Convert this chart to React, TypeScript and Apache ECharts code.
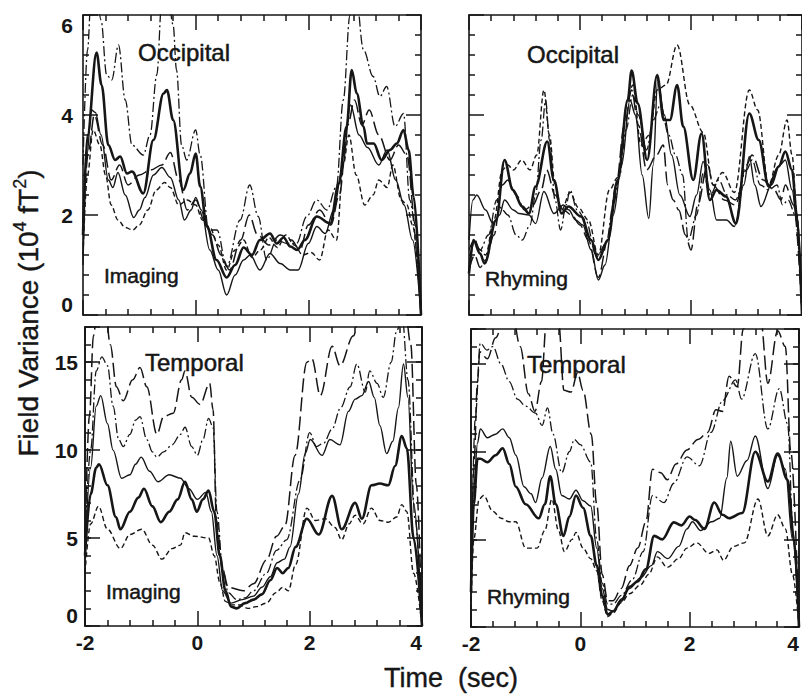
import React, { useEffect, useRef } from "react";
import * as echarts from "echarts";

type P = [number, number][];

// ---------- Top-left: Occipital / Imaging ----------
const tlDashDot: P = [[-2,3.0],[-1.92,5.3],[-1.85,6.5],[-1.75,6.3],[-1.68,5.9],[-1.58,4.8],[-1.49,4.7],[-1.37,5.4],[-1.25,4.3],[-1.13,3.4],[-0.93,3.2],[-0.81,3.6],[-0.69,4.8],[-0.6,6.3],[-0.5,6.5],[-0.4,5.8],[-0.34,4.9],[-0.25,3.4],[-0.16,3.1],[0,3.7],[0.08,3.2],[0.23,1.7],[0.38,1.7],[0.55,0.97],[0.79,1.9],[0.96,2.6],[1.11,1.97],[1.26,1.1],[1.44,1.5],[1.62,1.43],[1.79,1.43],[1.97,1.97],[2.15,2.3],[2.33,2.1],[2.5,2.57],[2.62,4.3],[2.74,6.0],[2.83,6.6],[2.98,5.3],[3.15,4.77],[3.27,4.37],[3.39,4.57],[3.54,3.77],[3.69,4.03],[3.8,2.3],[4,0]];
const tlThick: P = [[-2,1.6],[-1.92,3.6],[-1.76,5.25],[-1.67,4.6],[-1.55,3.4],[-1.43,3.1],[-1.34,3.17],[-1.22,2.83],[-1.13,2.87],[-0.93,2.43],[-0.75,3.5],[-0.57,4.43],[-0.51,4.5],[-0.4,3.9],[-0.22,2.5],[-0.1,2.83],[0,3.23],[0.08,2.57],[0.2,1.77],[0.37,1.1],[0.55,0.75],[0.7,1.0],[0.85,1.35],[1.0,1.2],[1.14,1.5],[1.32,1.63],[1.44,1.43],[1.56,1.55],[1.68,1.37],[1.8,1.3],[1.94,1.5],[2.15,1.97],[2.39,1.83],[2.54,2.63],[2.68,3.77],[2.77,4.9],[2.86,4.43],[2.98,3.77],[3.04,3.43],[3.16,3.43],[3.3,3.1],[3.45,3.3],[3.57,3.43],[3.69,3.7],[3.78,3.3],[3.87,2.37],[4,0]];
const tlThin: P = [[-2,1.0],[-1.93,3.2],[-1.85,4.1],[-1.78,4.05],[-1.68,3.6],[-1.55,2.7],[-1.47,2.55],[-1.38,2.85],[-1.25,2.4],[-1.1,1.95],[-1.0,2.1],[-0.9,2.35],[-0.75,2.8],[-0.6,2.95],[-0.45,2.75],[-0.3,2.3],[-0.2,1.9],[-0.08,2.1],[0,2.35],[0.1,2.1],[0.25,1.3],[0.4,0.9],[0.55,0.4],[0.7,0.8],[0.85,1.1],[0.97,1.2],[1.14,0.9],[1.32,1.23],[1.5,1.03],[1.68,0.9],[1.82,0.9],[2.0,1.43],[2.15,1.77],[2.3,1.63],[2.45,2.1],[2.6,2.9],[2.75,4.2],[2.9,3.6],[3.05,3.35],[3.25,3.0],[3.4,3.3],[3.55,2.7],[3.7,2.2],[3.85,1.5],[4,0]];
const tlLongDash: P = [[-2,1.8],[-1.9,3.3],[-1.8,4.0],[-1.65,3.4],[-1.5,2.7],[-1.35,3.0],[-1.2,2.6],[-1.0,2.8],[-0.8,2.9],[-0.6,3.0],[-0.45,3.25],[-0.3,2.7],[-0.15,2.1],[0,2.3],[0.15,1.9],[0.3,1.6],[0.45,1.2],[0.6,0.9],[0.8,1.5],[0.95,2.0],[1.1,1.6],[1.3,1.4],[1.5,1.6],[1.7,1.5],[1.85,1.3],[2.0,1.8],[2.2,2.1],[2.4,1.8],[2.55,2.4],[2.7,3.8],[2.82,4.3],[2.95,3.8],[3.08,4.1],[3.25,3.6],[3.45,3.1],[3.6,3.4],[3.75,3.2],[3.9,1.8],[4,0]];
const tlShortDash: P = [[-2,1.2],[-1.92,2.8],[-1.82,3.7],[-1.7,3.4],[-1.6,2.8],[-1.5,2.2],[-1.38,1.9],[-1.25,1.75],[-1.12,1.7],[-1.0,1.8],[-0.85,2.1],[-0.7,2.5],[-0.55,2.65],[-0.45,2.55],[-0.3,2.2],[-0.15,2.3],[0,2.2],[0.12,1.9],[0.25,1.75],[0.4,1.4],[0.55,0.9],[0.7,1.3],[0.85,1.5],[1.0,1.15],[1.15,1.3],[1.3,1.55],[1.45,1.35],[1.6,1.6],[1.75,1.4],[1.9,1.2],[2.05,1.25],[2.2,1.1],[2.35,1.7],[2.5,1.5],[2.62,3.0],[2.72,3.6],[2.85,2.8],[3.0,2.2],[3.15,2.4],[3.25,2.7],[3.4,2.55],[3.5,3.0],[3.65,2.3],[3.75,2.2],[3.85,1.8],[4,0]];

// ---------- Top-right: Occipital / Rhyming ----------
const trShortDash: P = [[-2,0.9],[-1.9,1.5],[-1.8,1.3],[-1.7,1.2],[-1.55,1.9],[-1.4,2.9],[-1.3,3.0],[-1.2,2.9],[-1.05,3.1],[-0.9,2.9],[-0.78,3.2],[-0.65,4.5],[-0.55,3.6],[-0.45,2.6],[-0.33,2.1],[-0.18,2.45],[-0.03,2.15],[0.15,1.9],[0.33,1.2],[0.53,2.5],[0.68,2.75],[0.86,4.3],[0.95,4.6],[1.1,3.4],[1.25,3.6],[1.39,4.5],[1.55,4.6],[1.75,5.4],[1.98,4.2],[2.22,3.65],[2.4,2.6],[2.57,2.85],[2.78,2.45],[3.05,4.5],[3.2,4.1],[3.4,2.6],[3.58,3.2],[3.73,3.9],[3.82,3.2],[3.91,2.0],[4,0]];
const trThick: P = [[-2,0.83],[-1.92,1.5],[-1.8,1.23],[-1.72,1.03],[-1.51,1.9],[-1.36,3.1],[-1.21,2.5],[-1.04,2.17],[-0.92,2.03],[-0.8,2.57],[-0.59,3.47],[-0.47,2.7],[-0.33,2.03],[-0.21,2.17],[0.02,1.97],[0.2,1.5],[0.33,1.1],[0.5,1.5],[0.68,2.7],[0.86,4.3],[0.93,4.89],[1.04,4.23],[1.21,3.1],[1.39,4.8],[1.51,3.9],[1.62,3.9],[1.75,4.6],[1.86,3.77],[2.04,2.7],[2.19,3.63],[2.34,2.3],[2.46,2.5],[2.63,2.37],[2.81,1.83],[3.05,4.03],[3.22,3.5],[3.4,2.57],[3.58,2.97],[3.7,3.27],[3.82,2.9],[3.91,1.97],[4,0]];
const trThin: P = [[-2,1.5],[-1.93,2.3],[-1.86,2.4],[-1.7,2.1],[-1.57,1.83],[-1.45,2.0],[-1.36,2.3],[-1.2,2.1],[-1.1,2.03],[-0.92,2.0],[-0.8,1.83],[-0.65,2.47],[-0.47,2.03],[-0.3,2.2],[-0.2,2.1],[-0.08,1.9],[0.05,1.8],[0.2,1.3],[0.33,0.7],[0.45,1.0],[0.6,2.0],[0.75,3.0],[0.9,4.3],[1.0,4.0],[1.12,2.8],[1.24,1.93],[1.32,3.0],[1.4,4.7],[1.52,4.0],[1.65,3.2],[1.8,2.4],[1.98,1.97],[2.1,2.4],[2.22,3.07],[2.34,2.5],[2.46,1.9],[2.64,1.9],[2.78,1.77],[2.95,2.6],[3.05,3.17],[3.15,2.6],[3.26,2.17],[3.45,2.6],[3.6,3.0],[3.7,3.1],[3.82,2.5],[3.92,1.8],[4,0]];
const trDashDot: P = [[-2,1.3],[-1.9,1.5],[-1.8,1.3],[-1.65,1.6],[-1.5,2.3],[-1.4,2.1],[-1.3,2.0],[-1.15,1.6],[-1.04,1.5],[-0.9,1.8],[-0.8,2.4],[-0.7,3.5],[-0.62,4.3],[-0.55,3.5],[-0.45,2.3],[-0.35,1.7],[-0.25,2.2],[-0.18,2.5],[-0.05,2.1],[0.1,1.9],[0.3,1.17],[0.47,1.43],[0.6,2.2],[0.71,2.77],[0.83,3.7],[0.95,4.4],[1.05,4.0],[1.2,3.3],[1.32,3.9],[1.45,4.2],[1.6,3.6],[1.72,3.2],[1.85,2.8],[1.95,1.5],[2.1,2.0],[2.22,2.83],[2.35,2.4],[2.5,2.7],[2.65,2.4],[2.8,2.3],[3.0,2.9],[3.1,3.1],[3.25,2.6],[3.4,2.5],[3.55,2.6],[3.65,2.2],[3.75,2.3],[3.88,2.0],[4,0]];
const trLongDash: P = [[-2,0.9],[-1.9,1.2],[-1.8,0.95],[-1.7,1.1],[-1.55,1.6],[-1.4,2.6],[-1.3,2.7],[-1.15,2.4],[-1.0,2.1],[-0.85,2.2],[-0.7,2.5],[-0.6,2.9],[-0.45,2.4],[-0.3,2.1],[-0.15,2.0],[0,1.8],[0.15,1.5],[0.33,0.75],[0.5,1.5],[0.65,2.6],[0.8,3.8],[0.93,4.5],[1.05,3.8],[1.2,2.9],[1.38,3.2],[1.5,3.4],[1.58,2.6],[1.68,2.3],[1.78,2.1],[1.9,1.6],[2.0,1.3],[2.12,2.2],[2.3,3.0],[2.4,2.6],[2.6,2.3],[2.8,2.2],[3.0,3.0],[3.1,3.2],[3.3,2.7],[3.5,2.5],[3.62,2.3],[3.7,2.6],[3.85,2.2],[4,0]];

// ---------- Bottom-left: Temporal / Imaging ----------
const blLongDash: P = [[-2,5],[-1.92,12],[-1.85,16.5],[-1.78,18],[-1.65,18.5],[-1.55,16],[-1.44,13.6],[-1.32,12.8],[-1.15,14],[-1.02,14.7],[-0.9,13.6],[-0.72,10.9],[-0.6,11.9],[-0.43,12.1],[-0.28,14.0],[-0.22,14.5],[-0.1,13.0],[0.05,12.6],[0.22,13.8],[0.28,12.3],[0.34,6.0],[0.45,3.2],[0.55,2.2],[0.82,2.0],[1.0,2.4],[1.23,3.75],[1.41,5.1],[1.56,5.7],[1.74,9.7],[1.95,15.0],[2.04,15.2],[2.19,13.1],[2.4,15.9],[2.54,14.8],[2.78,16.5],[2.9,18],[3.2,19],[3.5,18.5],[3.7,18],[3.8,16],[3.9,8],[4,0]];
const blDashDot: P = [[-2,5],[-1.9,10],[-1.8,14.5],[-1.7,15.3],[-1.6,14.8],[-1.5,12.5],[-1.4,10.6],[-1.32,10.2],[-1.2,10.9],[-1.1,11.7],[-1.02,11.9],[-0.9,10.6],[-0.8,9.9],[-0.72,9.6],[-0.6,9.9],[-0.45,10.3],[-0.3,10.9],[-0.22,11.3],[-0.1,10.2],[0,9.7],[0.1,10.6],[0.2,11.8],[0.28,11.3],[0.35,6.5],[0.45,3.3],[0.55,1.9],[0.7,1.5],[0.85,1.6],[1.0,2.0],[1.23,3.0],[1.41,4.3],[1.59,4.9],[1.83,8.3],[2.0,11.0],[2.12,10.2],[2.25,10.4],[2.4,11.2],[2.55,12.4],[2.72,13.6],[2.84,14.9],[2.99,13.3],[3.07,14.5],[3.2,13.8],[3.31,13.0],[3.45,15.0],[3.55,16.8],[3.65,17.5],[3.75,14],[3.88,6],[4,0]];
const blThin: P = [[-2,4],[-1.9,9],[-1.8,12.5],[-1.72,13.1],[-1.6,11.5],[-1.5,10.0],[-1.35,8.4],[-1.2,8.6],[-1.1,9.2],[-1.0,9.6],[-0.85,8.8],[-0.7,8.2],[-0.5,8.6],[-0.3,8.4],[-0.15,7.8],[0,7.2],[0.15,7.6],[0.25,6.5],[0.35,4.0],[0.45,2.0],[0.6,1.3],[0.8,1.5],[1.0,1.7],[1.15,2.2],[1.3,2.8],[1.42,3.6],[1.55,3.8],[1.65,4.5],[1.8,7.5],[1.92,9.8],[2.01,10.6],[2.22,9.7],[2.36,10.6],[2.54,10.3],[2.69,12.2],[2.81,12.9],[2.93,13.1],[3.05,13.9],[3.15,13.0],[3.25,11.4],[3.37,9.8],[3.48,10.5],[3.58,12.4],[3.67,14.9],[3.75,13],[3.85,7],[4,0]];
const blThick: P = [[-2,4],[-1.9,7.5],[-1.8,9.0],[-1.75,9.2],[-1.6,8.0],[-1.45,6.2],[-1.37,5.5],[-1.2,6.5],[-1.05,7.3],[-0.95,7.8],[-0.8,6.8],[-0.65,5.9],[-0.5,6.5],[-0.35,7.2],[-0.22,8.2],[-0.1,7.2],[-0.01,6.5],[0.1,7.2],[0.2,7.7],[0.3,6.5],[0.4,4.0],[0.5,2.0],[0.6,1.1],[0.7,1.0],[0.85,1.3],[1.0,1.5],[1.15,1.8],[1.3,2.6],[1.42,3.3],[1.52,3.0],[1.62,3.3],[1.75,4.5],[1.95,6.1],[2.16,5.2],[2.4,7.4],[2.57,5.5],[2.81,7.0],[2.93,6.1],[3.1,8.0],[3.25,8.1],[3.4,8.0],[3.52,9.1],[3.64,10.8],[3.73,10.1],[3.85,5],[4,0]];
const blShortDash: P = [[-2,3],[-1.9,5.8],[-1.76,6.8],[-1.6,5.5],[-1.37,4.4],[-1.2,5.2],[-0.99,5.5],[-0.8,4.6],[-0.63,3.8],[-0.45,4.4],[-0.3,4.6],[-0.22,5.3],[-0.05,5.1],[0.2,5.0],[0.3,4.0],[0.4,2.5],[0.5,1.4],[0.6,1.2],[0.75,1.2],[0.9,1.0],[1.05,1.1],[1.23,1.3],[1.4,1.9],[1.52,2.2],[1.62,2.0],[1.75,3.5],[1.95,6.7],[2.1,6.0],[2.28,6.1],[2.45,5.6],[2.57,4.9],[2.7,5.8],[2.81,6.3],[2.95,5.8],[3.1,6.7],[3.25,6.0],[3.4,5.9],[3.55,6.2],[3.64,6.9],[3.73,6.5],[3.85,3],[4,0]];

// ---------- Bottom-right: Temporal / Rhyming ----------
const brLongDash: P = [[-2,2],[-1.95,9],[-1.88,14],[-1.84,15.7],[-1.7,15.3],[-1.55,16.5],[-1.4,17.5],[-1.25,18],[-1.1,16],[-0.95,13.3],[-0.83,12.3],[-0.71,14],[-0.62,17.5],[-0.5,18],[-0.4,17.5],[-0.3,13.5],[-0.17,13.4],[-0.05,14.5],[0.05,13.5],[0.2,11],[0.3,7],[0.4,3],[0.5,1.5],[0.6,1.5],[0.75,2.2],[0.9,3.5],[1.05,4.5],[1.2,6],[1.32,9.0],[1.47,8.8],[1.59,8.4],[1.75,9.3],[1.95,10.1],[2.15,10.7],[2.33,11.1],[2.48,12.4],[2.6,12.3],[2.72,14.3],[2.87,13.7],[2.98,17],[3.1,18],[3.3,17.5],[3.43,13.9],[3.61,16.9],[3.75,16],[3.85,10],[4,0]];
const brDashDot: P = [[-2,3],[-1.92,12],[-1.83,16.2],[-1.71,15.8],[-1.6,16.0],[-1.45,15],[-1.3,14],[-1.15,13],[-1.0,12.6],[-0.82,12.2],[-0.7,11.5],[-0.6,12.5],[-0.5,11],[-0.34,8.8],[-0.2,10],[-0.11,10.7],[0,10.4],[0.19,9.4],[0.3,5],[0.4,2.5],[0.5,1.3],[0.6,1.3],[0.75,1.8],[0.95,2.7],[1.15,4.3],[1.32,7.5],[1.53,7.1],[1.71,8.2],[1.95,9.7],[2.18,9.2],[2.39,11.1],[2.6,12.9],[2.84,14.1],[2.95,13.0],[3.2,15.6],[3.43,11.3],[3.64,13.6],[3.79,11.6],[3.9,5],[4,0]];
const brThin: P = [[-2,2],[-1.95,8],[-1.88,10.5],[-1.83,11.3],[-1.7,10.8],[-1.55,11.0],[-1.42,11.3],[-1.3,10.8],[-1.18,9.8],[-1.03,8.0],[-0.9,7.6],[-0.82,7.1],[-0.7,8.5],[-0.55,10.3],[-0.45,9.0],[-0.34,7.5],[-0.2,7.3],[-0.08,7.8],[0.05,7.2],[0.19,6.9],[0.3,4.5],[0.4,2.2],[0.5,1.0],[0.6,0.9],[0.75,1.6],[0.9,2.2],[1.1,2.8],[1.3,3.5],[1.41,4.3],[1.6,3.9],[1.8,4.6],[1.95,5.6],[2.05,6.0],[2.2,5.5],[2.4,6.0],[2.55,6.2],[2.68,8.5],[2.75,10.6],[2.87,8.6],[3.05,9.5],[3.2,10.9],[3.43,7.9],[3.61,9.8],[3.75,9.0],[3.88,5],[4,0]];
const brThick: P = [[-2,2],[-1.95,7],[-1.88,9.6],[-1.83,9.6],[-1.7,9.4],[-1.55,9.8],[-1.42,10.2],[-1.3,9.3],[-1.18,8.0],[-1.0,7.0],[-0.76,6.2],[-0.65,7.0],[-0.55,8.6],[-0.45,7.0],[-0.31,5.2],[-0.2,6.3],[-0.08,7.5],[0.05,6.8],[0.19,5.2],[0.3,3.5],[0.4,1.8],[0.5,0.7],[0.6,0.9],[0.75,1.5],[0.9,2.3],[1.05,2.6],[1.2,3.3],[1.35,5.2],[1.5,5.0],[1.71,5.97],[1.85,5.8],[2.0,6.3],[2.1,6.1],[2.27,5.6],[2.45,7.1],[2.6,6.4],[2.72,6.2],[2.96,6.5],[3.2,10],[3.43,8.3],[3.61,9.9],[3.79,8.4],[3.91,5],[4,0]];
const brShortDash: P = [[-2,1],[-1.95,5],[-1.85,7.3],[-1.77,7.5],[-1.6,6.6],[-1.45,6.2],[-1.3,6.0],[-1.18,6.0],[-1.0,4.5],[-0.79,4.5],[-0.65,5.5],[-0.52,7.3],[-0.4,5.5],[-0.29,4.3],[-0.15,5.0],[-0.08,5.4],[0.05,4.5],[0.19,3.9],[0.3,3.2],[0.4,1.5],[0.5,0.6],[0.6,0.8],[0.75,1.4],[0.9,1.9],[1.1,2.4],[1.25,3.0],[1.41,4.0],[1.59,3.4],[1.8,3.9],[1.95,4.5],[2.13,4.8],[2.35,4.2],[2.5,4.4],[2.62,3.8],[2.8,4.6],[3.0,4.8],[3.25,7.3],[3.43,5.2],[3.61,6.4],[3.75,5.6],[3.88,3],[4,0]];

const xTicks = { min: -2, max: 4, interval: 2 };
const yTopRange = { min: 0, max: 6, interval: 2 };
const yBottomRange = { min: 0, max: 17, interval: 5 };

const INK = "#161616";
const FONT = "Liberation Sans, Arial, Helvetica, sans-serif";

const lineStyles: Record<string, any> = {
  thick: { type: "solid", width: 2.6 },
  thin: { type: "solid", width: 1.4 },
  longDash: { type: [14, 5], width: 1.5 },
  dashDot: { type: [10, 3, 2, 3], width: 1.3 },
  shortDash: { type: [5, 3], width: 1.4 },
};

export default function App() {
  const ref = useRef<HTMLDivElement>(null);

  useEffect(() => {
    document.body.style.margin = "0";
    const chart = echarts.init(ref.current!, null, { renderer: "svg" });

    const grids = [
      { left: 83, top: 15, width: 338, height: 300 },
      { left: 469, top: 15, width: 339, height: 300 },
      { left: 85, top: 327, width: 337, height: 299 },
      { left: 471, top: 329, width: 336, height: 298 },
    ];

    const axLine = { show: true, onZero: false, lineStyle: { color: INK, width: 1.6 } };
    const tickLS = { color: INK, width: 1.5 };

    const xAxis: any[] = [];
    const yAxis: any[] = [];
    const yIdx: number[] = [];

    grids.forEach((_, g) => {
      const bottomRow = g >= 2;
      const leftCol = g % 2 === 0;
      ["bottom", "top"].forEach((pos) => {
        xAxis.push({
          gridIndex: g,
          type: "value",
          position: pos,
          ...xTicks,
          axisLine: axLine,
          axisTick: { show: true, inside: true, length: 15, lineStyle: tickLS },
          minorTick: { show: true, splitNumber: 5, length: 6, lineStyle: tickLS },
          splitLine: { show: false },
          minorSplitLine: { show: false },
          axisLabel: {
            show: bottomRow && pos === "bottom",
            color: INK,
            fontFamily: FONT,
            fontSize: 21,
            fontWeight: "bold",
            margin: 6,
            alignMaxLabel: "right",
          },
        });
      });
      if (!bottomRow) {
        ["left", "right"].forEach((pos) => {
          if (pos === "left") yIdx.push(yAxis.length);
          yAxis.push({
            gridIndex: g,
            type: "value",
            position: pos,
            ...yTopRange,
            axisLine: axLine,
            axisTick: { show: true, inside: true, length: 15, lineStyle: tickLS },
            minorTick: { show: true, splitNumber: 5, length: 6, lineStyle: tickLS },
            splitLine: { show: false },
            minorSplitLine: { show: false },
            axisLabel: {
              show: leftCol && pos === "left",
              color: INK,
              fontFamily: FONT,
              fontSize: 21,
              fontWeight: "bold",
              margin: 10,
              verticalAlignMaxLabel: "top",
              verticalAlignMinLabel: "bottom",
            },
          });
        });
      } else {
        ["left", "right"].forEach((pos) => {
          if (pos === "left") yIdx.push(yAxis.length);
          yAxis.push({
            gridIndex: g,
            type: "value",
            position: pos,
            ...yBottomRange,
            axisLine: axLine,
            axisTick: { show: true, inside: true, length: 15, lineStyle: tickLS },
            splitLine: { show: false },
            axisLabel: {
              show: leftCol && pos === "left",
              color: INK,
              fontFamily: FONT,
              fontSize: 21,
              fontWeight: "bold",
              margin: 7,
              verticalAlignMinLabel: "bottom",
              formatter: (v: number) => (v % 5 === 0 ? String(v) : ""),
            },
          });
          yAxis.push({
            gridIndex: g,
            type: "value",
            position: pos,
            min: 0,
            max: 17,
            interval: 1,
            axisLine: axLine,
            axisTick: { show: true, inside: true, length: 6, lineStyle: tickLS },
            splitLine: { show: false },
            axisLabel: { show: false },
          });
        });
      }
    });

    const panels: [P, string][][] = [
      [[tlDashDot, "dashDot"], [tlLongDash, "longDash"], [tlShortDash, "shortDash"], [tlThin, "thin"], [tlThick, "thick"]],
      [[trDashDot, "dashDot"], [trLongDash, "longDash"], [trShortDash, "shortDash"], [trThin, "thin"], [trThick, "thick"]],
      [[blLongDash, "longDash"], [blDashDot, "dashDot"], [blShortDash, "shortDash"], [blThin, "thin"], [blThick, "thick"]],
      [[brLongDash, "longDash"], [brDashDot, "dashDot"], [brShortDash, "shortDash"], [brThin, "thin"], [brThick, "thick"]],
    ];

    const series: any[] = [];
    panels.forEach((lines, g) => {
      lines.forEach(([data, st]) => {
        series.push({
          type: "line",
          xAxisIndex: g * 2,
          yAxisIndex: yIdx[g],
          data,
          showSymbol: false,
          symbol: "none",
          smooth: 0.35,
          smoothMonotone: "x",
          clip: true,
          lineStyle: { color: INK, ...lineStyles[st] },
          silent: true,
        });
      });
    });

    const label = (text: string, x: number, y: number, size: number) => ({
      type: "text",
      x,
      y,
      silent: true,
      style: {
        text,
        fill: INK,
        stroke: INK,
        lineWidth: 0.5,
        font: `${size}px ${FONT}`,
        align: "left",
        verticalAlign: "middle",
      },
    });

    const graphic: any[] = [
      label("Occipital", 138, 52, 24),
      label("Imaging", 104, 275, 21),
      label("Occipital", 527, 54, 24),
      label("Rhyming", 485, 278, 21),
      label("Temporal", 145, 362, 24),
      label("Imaging", 106, 591, 21),
      label("Temporal", 527, 364, 24),
      label("Rhyming", 487, 596, 21),
      {
        type: "text",
        x: 28,
        y: 313,
        rotation: Math.PI / 2,
        silent: true,
        style: {
          text: "{a|Field Variance (10}{s|4}{a| fT}{s|2}{a|)}",
          fill: INK,
          align: "center",
          verticalAlign: "middle",
          rich: {
            a: { fontFamily: FONT, fontSize: 28, fill: INK, stroke: INK, lineWidth: 0.4, lineHeight: 34 },
            s: { fontFamily: FONT, fontSize: 18, fill: INK, stroke: INK, lineWidth: 0.3, verticalAlign: "top", lineHeight: 18 },
          },
        },
      },
      {
        type: "text",
        x: 451,
        y: 678,
        silent: true,
        style: {
          text: "Time  (sec)",
          fill: INK,
          stroke: INK,
          lineWidth: 0.4,
          font: `27px ${FONT}`,
          align: "center",
          verticalAlign: "middle",
        },
      },
    ];

    chart.setOption({
      animation: false,
      backgroundColor: "#ffffff",
      grid: grids,
      xAxis,
      yAxis,
      series,
      graphic,
    });

    return () => chart.dispose();
  }, []);

  return <div ref={ref} style={{ width: 802, height: 694 }} />;
}
